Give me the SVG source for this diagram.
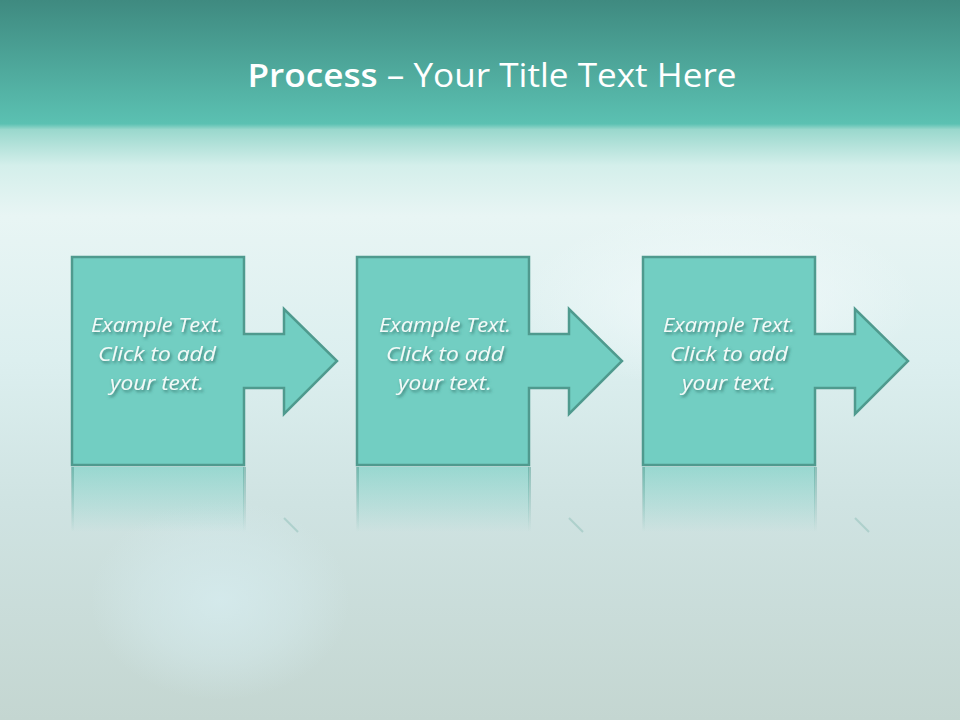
<svg xmlns="http://www.w3.org/2000/svg" width="960" height="720" viewBox="0 0 960 720">
<defs>
<linearGradient id="bg" x1="0" y1="0" x2="0" y2="1">
<stop offset="0" stop-color="#3f8a80"/>
<stop offset="0.172" stop-color="#5bc1b2"/>
<stop offset="0.18" stop-color="#9ad8cd"/>
<stop offset="0.23" stop-color="#d4efeb"/>
<stop offset="0.3" stop-color="#e8f5f4"/>
<stop offset="0.5" stop-color="#dcefef"/>
<stop offset="0.7" stop-color="#cfe3e2"/>
<stop offset="1" stop-color="#c4d6d1"/>
</linearGradient>
<radialGradient id="glow1" cx="0.5" cy="0.5" r="0.5">
<stop offset="0" stop-color="#d6ecef" stop-opacity="0.8"/>
<stop offset="0.6" stop-color="#d6ecef" stop-opacity="0.4"/>
<stop offset="1" stop-color="#d6ecef" stop-opacity="0"/>
</radialGradient>
<radialGradient id="glow2" cx="0.5" cy="0.5" r="0.5">
<stop offset="0" stop-color="#f2fafb" stop-opacity="0.9"/>
<stop offset="1" stop-color="#f2fafb" stop-opacity="0"/>
</radialGradient>
<linearGradient id="refl" x1="0" y1="0" x2="0" y2="1">
<stop offset="0" stop-color="#72cec2" stop-opacity="0.6"/>
<stop offset="1" stop-color="#72cec2" stop-opacity="0"/>
</linearGradient>
<linearGradient id="reflEdge" x1="0" y1="0" x2="0" y2="1">
<stop offset="0" stop-color="#4f9a8e" stop-opacity="0.5"/>
<stop offset="1" stop-color="#4f9a8e" stop-opacity="0"/>
</linearGradient>
<filter id="ts" x="-20%" y="-30%" width="140%" height="160%">
<feDropShadow dx="1.5" dy="2" stdDeviation="1.5" flood-color="#2f6e66" flood-opacity="0.85"/>
</filter>
<path id="shape" d="M0,0 H172 V77 H212 V52 L265,104 L212,157 V131 H172 V208 H0 Z"/>
</defs>
<style>
.box{fill:#72cec2;stroke:#4f9a8e;stroke-width:2.5;stroke-linejoin:miter}
.lbl{font-family:"Open Sans","Liberation Sans",sans-serif;font-style:italic;font-size:20.5px;fill:#f2faf8;text-anchor:middle;filter:url(#ts)}
.title{font-family:"Open Sans","Liberation Sans",sans-serif;font-size:32px;fill:#ffffff;text-anchor:middle}
</style>
<rect width="960" height="720" fill="url(#bg)"/>
<ellipse cx="220" cy="600" rx="130" ry="100" fill="url(#glow1)"/>
<ellipse cx="720" cy="300" rx="200" ry="90" fill="url(#glow2)"/>
<g id="title">
<text class="title" x="492" y="87" textLength="489" lengthAdjust="spacingAndGlyphs"><tspan font-weight="600">Process</tspan> – Your Title Text Here</text>
</g>
<g id="reflections">
<rect x="72" y="467" width="172" height="65" fill="url(#refl)"/>
<rect x="357" y="467" width="172" height="65" fill="url(#refl)"/>
<rect x="643" y="467" width="172" height="65" fill="url(#refl)"/>
<rect x="71" y="467" width="3" height="65" fill="url(#reflEdge)"/>
<rect x="243" y="467" width="3" height="65" fill="url(#reflEdge)"/>
<rect x="356" y="467" width="3" height="65" fill="url(#reflEdge)"/>
<rect x="528" y="467" width="3" height="65" fill="url(#reflEdge)"/>
<rect x="642" y="467" width="3" height="65" fill="url(#reflEdge)"/>
<rect x="814" y="467" width="3" height="65" fill="url(#reflEdge)"/>
<path d="M284,518 L298,532" stroke="#4f9a8e" stroke-opacity="0.25" stroke-width="2"/>
<path d="M569,518 L583,532" stroke="#4f9a8e" stroke-opacity="0.25" stroke-width="2"/>
<path d="M855,518 L869,532" stroke="#4f9a8e" stroke-opacity="0.25" stroke-width="2"/>
</g>
<g id="connectors"></g>
<g id="step1" transform="translate(72,257)">
<use href="#shape" class="box"/>
<text class="lbl" x="85" y="75" textLength="132" lengthAdjust="spacingAndGlyphs">Example Text.</text>
<text class="lbl" x="85" y="104" textLength="118" lengthAdjust="spacingAndGlyphs">Click  to add</text>
<text class="lbl" x="85" y="133" textLength="94" lengthAdjust="spacingAndGlyphs">your text.</text>
</g>
<g id="step2" transform="translate(357,257)">
<use href="#shape" class="box"/>
<text class="lbl" x="88" y="75" textLength="132" lengthAdjust="spacingAndGlyphs">Example Text.</text>
<text class="lbl" x="88" y="104" textLength="118" lengthAdjust="spacingAndGlyphs">Click  to add</text>
<text class="lbl" x="88" y="133" textLength="94" lengthAdjust="spacingAndGlyphs">your text.</text>
</g>
<g id="step3" transform="translate(643,257)">
<use href="#shape" class="box"/>
<text class="lbl" x="86" y="75" textLength="132" lengthAdjust="spacingAndGlyphs">Example Text.</text>
<text class="lbl" x="86" y="104" textLength="118" lengthAdjust="spacingAndGlyphs">Click  to add</text>
<text class="lbl" x="86" y="133" textLength="94" lengthAdjust="spacingAndGlyphs">your text.</text>
</g>
</svg>
